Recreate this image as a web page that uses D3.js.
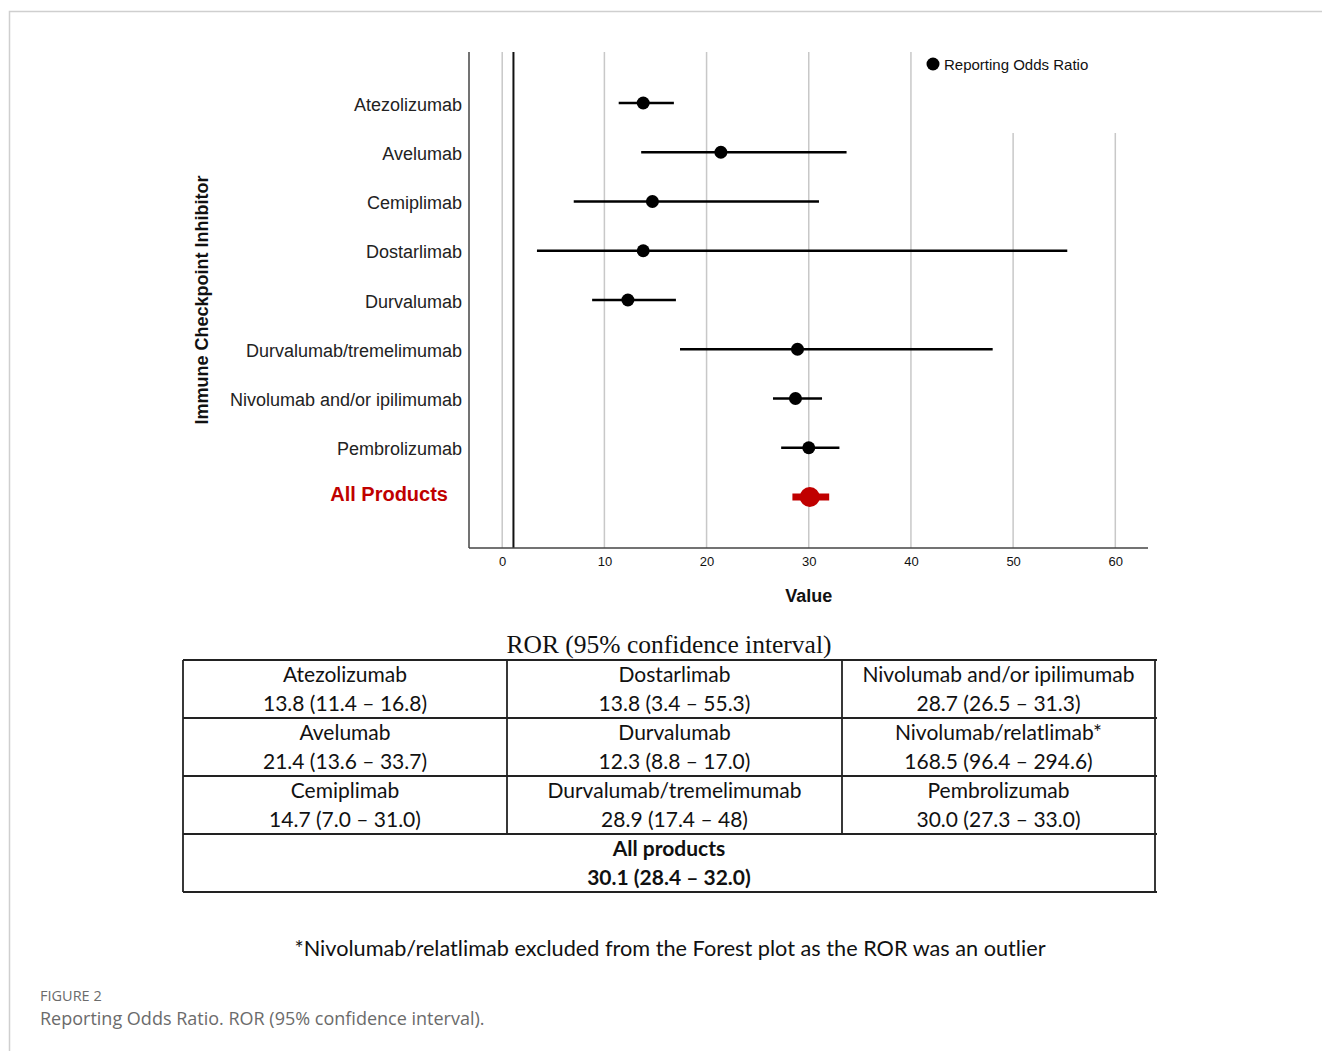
<!DOCTYPE html>
<html>
<head>
<meta charset="utf-8">
<script src="https://cdn.jsdelivr.net/npm/d3@7"></script>
<style>
  body { margin: 0; background: #fff; }
  svg { display: block; }
  .axis text { font-family: "Liberation Sans", Arial, sans-serif; }
</style>
</head>
<body>
<svg id="chart"></svg>
<script>
// forest plot rows
var drugs = ['Atezolizumab', 'Avelumab', 'Cemiplimab', 'Dostarlimab', 'Durvalumab',
  'Durvalumab/tremelimumab', 'Nivolumab and/or ipilimumab', 'Pembrolizumab', 'All Products'];
var ror    = [13.8, 21.4, 14.7, 13.8, 12.3, 28.9, 28.7, 30.0, 30.1];
var ciLow  = [11.4, 13.6, 7.0, 3.4, 8.8, 17.4, 26.5, 27.3, 28.4];
var ciHigh = [16.8, 33.7, 31.0, 55.3, 17.0, 48, 31.3, 33.0, 32.0];
var xTicks = [0, 10, 20, 30, 40, 50, 60];
var refValue = 1.1;

// table under the plot
var tableNames = [
  ['Atezolizumab', 'Dostarlimab', 'Nivolumab and/or ipilimumab'],
  ['Avelumab', 'Durvalumab', 'Nivolumab/relatlimab*'],
  ['Cemiplimab', 'Durvalumab/tremelimumab', 'Pembrolizumab']
];
var tableValues = [
  ['13.8 (11.4 \u2013 16.8)', '13.8 (3.4 \u2013 55.3)', '28.7 (26.5 \u2013 31.3)'],
  ['21.4 (13.6 \u2013 33.7)', '12.3 (8.8 \u2013 17.0)', '168.5 (96.4 \u2013 294.6)'],
  ['14.7 (7.0 \u2013 31.0)', '28.9 (17.4 \u2013 48)', '30.0 (27.3 \u2013 33.0)']
];
var totalName = 'All products';
var totalValue = '30.1 (28.4 \u2013 32.0)';

var W = 1322, H = 1051;
var svg = d3.select('#chart').attr('width', W).attr('height', H);

// outer frame
svg.append('path')
  .attr('d', 'M9.5,' + H + 'V11.5H' + W)
  .attr('fill', 'none').attr('stroke', '#cfcfcf').attr('stroke-width', 1.5);

var plotLeft = 469, plotRight = 1148, plotTop = 52, plotBottom = 548;

var x = d3.scaleLinear().domain([-3.25, 63.2]).range([plotLeft, plotRight]);
var y = d3.scalePoint().domain(drugs).range([103, 497]);

// gridlines
svg.append('g').selectAll('line')
  .data(xTicks)
  .enter().append('line')
    .attr('x1', function(d) { return x(d); })
    .attr('x2', function(d) { return x(d); })
    .attr('y1', function(d) { return d >= 50 ? 133 : plotTop; })
    .attr('y2', plotBottom)
    .attr('stroke', '#c8c8c8').attr('stroke-width', 1.5);

// reference line
svg.append('line')
  .attr('x1', x(refValue)).attr('x2', x(refValue))
  .attr('y1', plotTop).attr('y2', plotBottom)
  .attr('stroke', '#111').attr('stroke-width', 2);

// x axis
var xAxis = svg.append('g')
  .attr('class', 'axis')
  .attr('transform', 'translate(0,' + plotBottom + ')')
  .call(d3.axisBottom(x).tickValues(xTicks).tickSize(0).tickPadding(9));
xAxis.select('.domain').remove();
xAxis.selectAll('text').attr('font-size', 13).attr('fill', '#111');
svg.append('line')
  .attr('x1', plotLeft).attr('x2', plotRight)
  .attr('y1', plotBottom).attr('y2', plotBottom)
  .attr('stroke', '#444').attr('stroke-width', 1.5);

// y axis
var yAxis = svg.append('g')
  .attr('class', 'axis')
  .attr('transform', 'translate(' + plotLeft + ',0)')
  .call(d3.axisLeft(y).tickSize(0).tickPadding(7));
yAxis.select('.domain').remove();
yAxis.selectAll('text')
  .attr('font-size', 18)
  .attr('fill', '#222')
  .attr('dy', '0.4em');
yAxis.selectAll('.tick').filter(function(d) { return d === 'All Products'; })
  .select('text')
    .attr('x', -21)
    .attr('dy', '0.15em')
    .attr('font-family', 'Lato, "Open Sans", sans-serif')
    .attr('font-weight', 'bold')
    .attr('font-size', 20)
    .attr('fill', '#c00000');
svg.append('line')
  .attr('x1', plotLeft).attr('x2', plotLeft)
  .attr('y1', plotTop).attr('y2', plotBottom)
  .attr('stroke', '#444').attr('stroke-width', 1.5);

// axis titles
svg.append('text')
  .attr('transform', 'translate(208,300) rotate(-90)')
  .attr('text-anchor', 'middle')
  .attr('font-family', '"Liberation Sans", Arial, sans-serif')
  .attr('font-weight', 'bold').attr('font-size', 18).attr('fill', '#111')
  .text('Immune Checkpoint Inhibitor');
svg.append('text')
  .attr('x', x(30)).attr('y', 602)
  .attr('text-anchor', 'middle')
  .attr('font-family', '"Liberation Sans", Arial, sans-serif')
  .attr('font-weight', 'bold').attr('font-size', 18).attr('fill', '#111')
  .text('Value');

// intervals and points
var rows = drugs.map(function(d, i) {
  return { name: d, ror: ror[i], lo: ciLow[i], hi: ciHigh[i], total: d === 'All Products' };
});
var marks = svg.append('g').selectAll('g').data(rows).enter().append('g');
marks.append('line')
  .attr('x1', function(d) { return x(d.lo); })
  .attr('x2', function(d) { return x(d.hi); })
  .attr('y1', function(d) { return y(d.name); })
  .attr('y2', function(d) { return y(d.name); })
  .attr('stroke', function(d) { return d.total ? '#c00000' : '#000'; })
  .attr('stroke-width', function(d) { return d.total ? 7 : 2.5; });
marks.append('circle')
  .attr('cx', function(d) { return x(d.ror); })
  .attr('cy', function(d) { return y(d.name); })
  .attr('r', function(d) { return d.total ? 10 : 6.5; })
  .attr('fill', function(d) { return d.total ? '#c00000' : '#000'; });

// legend
svg.append('circle').attr('cx', 933).attr('cy', 64).attr('r', 6.5).attr('fill', '#000');
svg.append('text')
  .attr('x', 944).attr('y', 70)
  .attr('font-family', '"Liberation Sans Narrow", "Liberation Sans", Arial, sans-serif')
  .attr('font-size', 15).attr('fill', '#111')
  .text('Reporting Odds Ratio');

// table
var tblLeft = 183, tblRight = 1155, colX = [183, 507, 842, 1155];
var rowY = [660, 718, 776, 834, 892];
var cellFont = 'Lato, "Open Sans", sans-serif';

svg.append('text')
  .attr('x', 669).attr('y', 653)
  .attr('text-anchor', 'middle')
  .attr('font-family', '"Liberation Serif", "Times New Roman", serif')
  .attr('font-size', 25.5).attr('fill', '#111')
  .text('ROR (95% confidence interval)');

var tbl = svg.append('g').attr('stroke', '#222').attr('stroke-width', 1.8);
rowY.forEach(function(yy) {
  tbl.append('line').attr('x1', tblLeft).attr('x2', tblRight + 2).attr('y1', yy).attr('y2', yy);
});
[colX[0], colX[3]].forEach(function(xx) {
  tbl.append('line').attr('x1', xx).attr('x2', xx).attr('y1', rowY[0]).attr('y2', rowY[4]);
});
[colX[1], colX[2]].forEach(function(xx) {
  tbl.append('line').attr('x1', xx).attr('x2', xx).attr('y1', rowY[0]).attr('y2', rowY[3]);
});

tableNames.forEach(function(r, ri) {
  r.forEach(function(name, ci) {
    var cx = (colX[ci] + colX[ci + 1]) / 2;
    svg.append('text')
      .attr('x', cx).attr('y', rowY[ri] + 22)
      .attr('text-anchor', 'middle')
      .attr('font-family', cellFont).attr('font-size', 21).attr('fill', '#111')
      .text(name);
    svg.append('text')
      .attr('x', cx).attr('y', rowY[ri] + 51)
      .attr('text-anchor', 'middle')
      .attr('font-family', cellFont).attr('font-size', 21).attr('fill', '#111')
      .text(tableValues[ri][ci]);
  });
});
svg.append('text')
  .attr('x', 669).attr('y', rowY[3] + 22)
  .attr('text-anchor', 'middle')
  .attr('font-family', cellFont).attr('font-weight', 'bold').attr('font-size', 21).attr('fill', '#111')
  .text(totalName);
svg.append('text')
  .attr('x', 669).attr('y', rowY[3] + 51)
  .attr('text-anchor', 'middle')
  .attr('font-family', cellFont).attr('font-weight', 'bold').attr('font-size', 21).attr('fill', '#111')
  .text(totalValue);

// footnote
svg.append('text')
  .attr('x', 670).attr('y', 956)
  .attr('text-anchor', 'middle')
  .attr('font-family', cellFont).attr('font-size', 21.7).attr('fill', '#111')
  .text('*Nivolumab/relatlimab excluded from the Forest plot as the ROR was an outlier');

// figure caption
svg.append('text')
  .attr('x', 40).attr('y', 1001)
  .attr('font-family', '"Open Sans", "Noto Sans", sans-serif')
  .attr('font-size', 14.5).attr('fill', '#6b6b6b')
  .text('FIGURE 2');
svg.append('text')
  .attr('x', 40).attr('y', 1025)
  .attr('font-family', '"Open Sans", "Noto Sans", sans-serif')
  .attr('font-size', 18).attr('fill', '#6b6b6b')
  .text('Reporting Odds Ratio. ROR (95% confidence interval).');
</script>
</body>
</html>
